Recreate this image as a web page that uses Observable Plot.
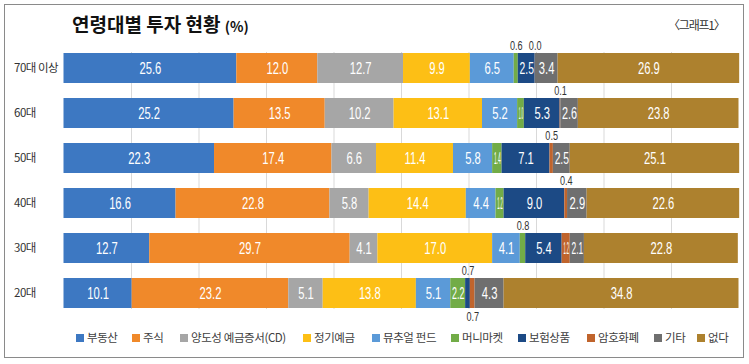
<!DOCTYPE html>
<html><head><meta charset="utf-8">
<script src="https://cdn.jsdelivr.net/npm/d3@7"></script>
<script src="https://cdn.jsdelivr.net/npm/@observablehq/plot@0.6"></script>
<style>
body{margin:0;background:#fff;}
#wrap{position:relative;width:749px;height:364px;overflow:hidden;background:#fff;font-family:"Noto Sans CJK KR","Noto Sans",sans-serif;}
#frame{position:absolute;left:4px;top:4px;width:740px;height:354px;border:1.5px solid #8a8a8a;box-sizing:border-box;}
#title{position:absolute;left:72px;top:13px;font-size:19px;font-weight:bold;color:#111;line-height:1.2;white-space:nowrap;}
#title small{font-size:14px;font-weight:bold;}
#tag{position:absolute;left:668px;top:18px;font-size:12px;letter-spacing:-1.2px;color:#333;line-height:1.2;white-space:nowrap;}
#chart{position:absolute;left:0;top:0;}
#legend{position:absolute;left:0;top:328px;width:749px;height:20px;font-size:11.5px;color:#404040;line-height:18px;white-space:nowrap;}
#legend div{position:absolute;top:0;letter-spacing:-0.4px;}
#legend span.sw{display:inline-block;width:8px;height:8px;margin-right:3px;}
</style></head>
<body>
<div id="wrap">
  <div id="frame"></div>
  <div id="title">연령대별 투자 현황 <small>(%)</small></div>
  <div id="tag">〈그래프1〉</div>
  <div id="chart"></div>
  <div id="legend"></div>
</div>
<script>
const ages = ["70대 이상", "60대", "50대", "40대", "30대", "20대"];
const assets = ["부동산", "주식", "양도성 예금증서(CD)", "정기예금", "뮤추얼 펀드", "머니마켓", "보험상품", "암호화폐", "기타", "없다"];
const colors = ["#3d78c2", "#f0892a", "#a6a6a6", "#fdbf15", "#5b9ad8", "#72ac47", "#1c4a85", "#c0642c", "#6f6f6f", "#ad812e"];
const v70 = [25.6, 12.0, 12.7, 9.9, 6.5, 0.6, 2.5, 0.0, 3.4, 26.9];
const v60 = [25.2, 13.5, 10.2, 13.1, 5.2, 1.0, 5.3, 0.1, 2.6, 23.8];
const v50 = [22.3, 17.4, 6.6, 11.4, 5.8, 1.4, 7.1, 0.5, 2.5, 25.1];
const v40 = [16.6, 22.8, 5.8, 14.4, 4.4, 1.2, 9.0, 0.4, 2.9, 22.6];
const v30 = [12.7, 29.7, 4.1, 17.0, 4.1, 0.8, 5.4, 1.2, 2.1, 22.8];
const v20 = [10.1, 23.2, 5.1, 13.8, 5.1, 2.2, 0.7, 0.7, 4.3, 34.8];
const gridTicks = [10, 20, 30, 40, 50, 60, 70, 80, 90];

// legend item left edges (layout)
const legendLeft = [76, 132, 180, 303, 372, 451, 518, 587, 654, 697];

const seriesByAge = [v70, v60, v50, v40, v30, v20];
const rows = [];
ages.forEach((age, i) => {
  let prevAbove = false;
  seriesByAge[i].forEach((value, j) => {
    const place = value < 1 ? (prevAbove ? "below" : "above") : "inside";
    prevAbove = place === "above";
    rows.push({age, asset: assets[j], value, label: value.toFixed(1), place});
  });
});

const numFont = '"Liberation Sans","Arial",sans-serif';
const st = (extra) => Plot.stackX({x: "value", y: "age", z: "asset", ...extra});

const chart = Plot.plot({
  width: 749, height: 340,
  marginLeft: 63.5, marginRight: 10.5, marginTop: 52, marginBottom: 31,
  style: {fontFamily: '"Noto Sans CJK KR",sans-serif', fontSize: "12px", color: "#333", background: "transparent", overflow: "visible"},
  x: {domain: [0, 100], axis: null},
  y: {domain: ages, paddingInner: 0.34, paddingOuter: 0, label: null},
  color: {domain: assets, range: colors},
  marks: [
    Plot.ruleX(gridTicks, {stroke: "#d9d9d9", strokeWidth: 1}),
    Plot.barX(rows, st({fill: "asset"})),
    Plot.text(rows, st({text: d => d.place === "inside" ? d.label : "", fill: "white", fontSize: 16, fontFamily: numFont})),
    Plot.text(rows, st({text: d => d.place === "above" ? d.label : "", fill: "#333", fontSize: 13, fontFamily: numFont, dy: -23})),
    Plot.text(rows, st({text: d => d.place === "below" ? d.label : "", fill: "#333", fontSize: 13, fontFamily: numFont, dy: 23})),
    Plot.axisY({tickSize: 0, tickPadding: 50, textAnchor: "start", fontSize: 11.5, label: null})
  ]
});
document.getElementById("chart").appendChild(chart);
chart.querySelectorAll('g[aria-label="y-axis tick label"] text').forEach(t => t.setAttribute("letter-spacing", "-0.5"));

// condense the number labels, squeezing any that do not fit their segment
const xs = chart.scale("x");
const groups = chart.querySelectorAll('g[aria-label="text"]');
const sets = [["inside", groups[0]], ["above", groups[1]], ["below", groups[2]]];
sets.forEach(([place, g]) => {
  if (!g) return;
  const sub = rows.filter(d => d.place === place);
  g.querySelectorAll("text").forEach((t, k) => {
    const d = sub[k];
    let len = t.getComputedTextLength() * 0.7;
    if (d && place === "inside") {
      const w = xs.apply(d.value) - xs.apply(0) - 2.5;
      len = Math.min(len, w);
    }
    t.setAttribute("textLength", len);
    t.setAttribute("lengthAdjust", "spacingAndGlyphs");
  });
});

const legend = document.getElementById("legend");
assets.forEach((a, i) => {
  const item = document.createElement("div");
  item.style.left = legendLeft[i] + "px";
  item.innerHTML = `<span class="sw" style="background:${colors[i]}"></span>${a}`;
  legend.appendChild(item);
});
</script>
</body></html>
